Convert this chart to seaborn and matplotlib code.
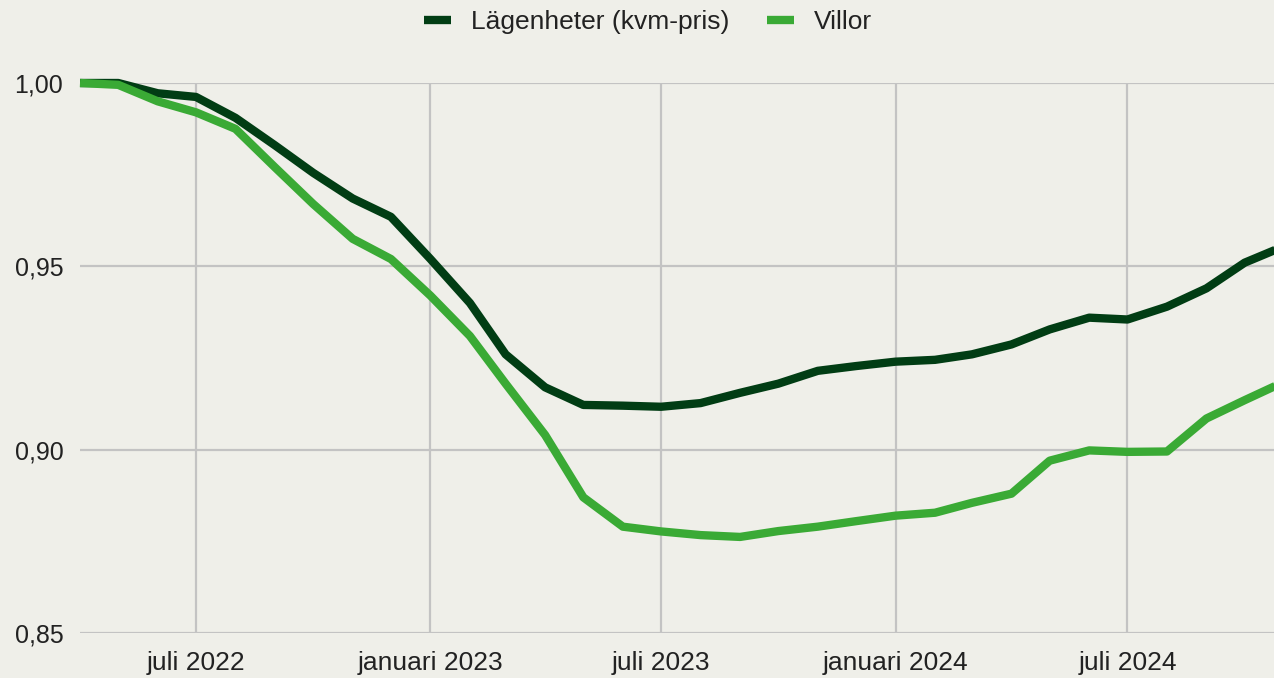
import matplotlib
matplotlib.use("Agg")
import matplotlib.pyplot as plt
import seaborn as sns
import pandas as pd

# Månadsdata, index (apr 2022 = 1,00)
datum = pd.date_range("2022-04-01", "2024-11-01", freq="MS")

lagenheter = [1.000, 1.000, 0.9972, 0.9962, 0.9905, 0.9830, 0.9755, 0.9685,
              0.9635, 0.9520, 0.9400, 0.9260, 0.9170, 0.9122, 0.9120, 0.9117,
              0.9127, 0.9155, 0.9180, 0.9215, 0.9228, 0.9240, 0.9245, 0.9260,
              0.9287, 0.9328, 0.9360, 0.9355, 0.9390, 0.9440, 0.9510, 0.9555]

villor = [1.000, 0.9995, 0.9950, 0.9920, 0.9875, 0.9770, 0.9670, 0.9575,
          0.9520, 0.9420, 0.9310, 0.9180, 0.9040, 0.8870, 0.8790, 0.8777,
          0.8767, 0.8762, 0.8778, 0.8790, 0.8805, 0.8820, 0.8828, 0.8855,
          0.8880, 0.8970, 0.8998, 0.8994, 0.8995, 0.9085, 0.9135, 0.9185]

serier = ["Lägenheter (kvm-pris)", "Villor"]
farger = {"Lägenheter (kvm-pris)": "#013d14", "Villor": "#3aaa35"}

x_ticks = pd.to_datetime(["2022-07-01", "2023-01-01", "2023-07-01", "2024-01-01", "2024-07-01"])
x_labels = ["juli 2022", "januari 2023", "juli 2023", "januari 2024", "juli 2024"]
y_ticks = [0.85, 0.90, 0.95, 1.00]
y_labels = ["0,85", "0,90", "0,95", "1,00"]

df = pd.concat([
    pd.DataFrame({"datum": datum, "index": lagenheter, "serie": serier[0]}),
    pd.DataFrame({"datum": datum, "index": villor, "serie": serier[1]}),
])

bg = "#efefe9"
sns.set_theme(style="white")
plt.rcParams["font.family"] = ["Liberation Sans", "DejaVu Sans"]

fig = plt.figure(figsize=(12.74, 6.78), dpi=100, facecolor=bg)
ax = fig.add_axes([80 / 1274, 45 / 678, 1 - 80 / 1274, 550 / 678])
ax.set_facecolor(bg)

sns.lineplot(data=df, x="datum", y="index", hue="serie", hue_order=serier,
             palette=farger, linewidth=6, ax=ax, clip_on=False,
             solid_capstyle="butt", solid_joinstyle="round", zorder=3)

ax.set_xlim(pd.Timestamp("2022-04-01"), pd.Timestamp("2024-10-24"))
ax.set_ylim(0.85, 1.00)
ax.set_xticks(x_ticks)
ax.set_xticklabels(x_labels)
ax.set_yticks(y_ticks)
ax.set_yticklabels(y_labels)
ax.tick_params(axis="x", length=0, pad=13, labelsize=19, labelcolor="#222222")
ax.tick_params(axis="y", length=0, pad=12, labelsize=18, labelcolor="#222222")
ax.grid(True, color="#c3c3c3", linewidth=1.6)
ax.set_axisbelow(True)
for s in ax.spines.values():
    s.set_visible(False)
ax.set_xlabel("")
ax.set_ylabel("")

handles, labels = ax.get_legend_handles_labels()
ax.get_legend().remove()
fig.legend(handles, labels, loc="center", bbox_to_anchor=(648 / 1274, 1 - 22 / 678),
           ncol=2, frameon=False, fontsize=19, handlelength=1.05, handletextpad=0.75,
           columnspacing=1.4, labelcolor="#222222")

fig.savefig("out.png", dpi=100, facecolor=bg)
